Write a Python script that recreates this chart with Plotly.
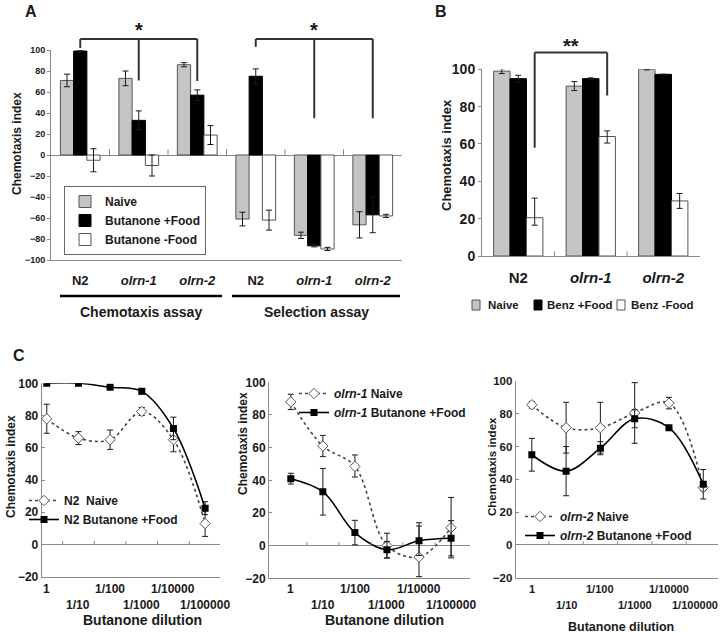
import plotly.graph_objects as go

W, H = 720, 634
FONT = "Liberation Sans, Arial, Helvetica, sans-serif"
INK = "#1a1a1a"
AXIS = "#8a8a8a"
GRAY_FILL = "#c4c4c4"
EDGE = "#555555"

# ---------------- Panel A data ----------------
a_strains = ["N2", "<i>olrn-1</i>", "<i>olrn-2</i>", "N2", "<i>olrn-1</i>", "<i>olrn-2</i>"]
a_assays = ["Chemotaxis assay", "Selection assay"]
a_series = ["Naive", "Butanone +Food", "Butanone -Food"]
a_naive = [71, 73, 86, -61, -76.5, -66.5]
a_naive_err = [6, 7, 2, 6.5, 3, 12.5]
a_food = [99, 33, 57, 75, -86.5, -57]
a_food_err = [0.8, 9, 5, 7, 1, 17]
a_nofood = [-5, -10, 19, -62, -89.5, -58]
a_nofood_err = [11, 10, 9, 9.5, 1.5, 1.5]
a_yticks = [-100, -80, -60, -40, -20, 0, 20, 40, 60, 80, 100]

# ---------------- Panel B data ----------------
b_strains = ["N2", "<i>olrn-1</i>", "<i>olrn-2</i>"]
b_series = ["Naive", "Benz +Food", "Benz -Food"]
b_naive = [99, 91, 100]
b_naive_err = [1.3, 2.4, 0.3]
b_food = [95, 95, 97.3]
b_food_err = [1.8, 0.4, 0.0]
b_nofood = [20.5, 64, 29.5]
b_nofood_err_plus = [10.5, 3, 4]
b_nofood_err_minus = [4, 3.5, 4]
b_yticks = [0, 20, 40, 60, 80, 100]

# ---------------- Panel C data ----------------
dilutions = ["1", "1/10", "1/100", "1/1000", "1/10000", "1/100000"]
c_yticks = [-20, 0, 20, 40, 60, 80, 100]
c1_naive = [78, 66, 65, 82.5, 65, 13]
c1_naive_err = [9, 4, 6, 2.5, 7.5, 8]
c1_food = [100, 100, 97.5, 95, 72, 22.5]
c1_food_err = [0.5, 0.5, 0.5, 1.7, 7, 4]
c2_naive = [88, 61, 48.5, 0, -7, 11]
c2_naive_err_plus = [4.7, 6.5, 7, 7.6, 21, 18.5]
c2_naive_err_minus = [4.7, 6.5, 6.5, 7.6, 12, 18.5]
c2_food = [41, 33, 8, -2.5, 3, 4.5]
c2_food_err = [3.3, 14.3, 7.5, 5, 9, 10.8]
c3_naive = [85.5, 71.5, 71.5, 80.5, 86.5, 35]
c3_naive_err = [2, 15.5, 15.5, 18.5, 3.5, 2]
c3_food = [55, 45, 59, 77, 71.5, 37]
c3_food_err = [10, 15, 4, 5.5, 0.5, 9]

# ---------------- geometry (pixels) ----------------
def px(x):
    return x / W

def py(y):
    return 1 - y / H

A_XPX, A_YPX, A_YR = (51, 402), (260, 50), (-100, 100)
B_XPX, B_YPX, B_YR = (482, 699.5), (256, 69.3), (0, 100)
C_XPX = [(41.7, 220), (269, 470), (515.7, 718)]
C_YPX = [(576.7, 383.3), (578.3, 382.3), (577.7, 381)]
C_XR = [(-0.16, 5.47), (-0.68, 5.59), (-0.47, 5.43)]
C_YR = (-20, 100)


def dom_x(p):
    return [px(p[0]), px(p[1])]


def dom_y(p):
    return [py(p[0]), py(p[1])]


def val_to_paper(v, ypx, yr):
    d = dom_y(ypx)
    return d[0] + (v - yr[0]) / (yr[1] - yr[0]) * (d[1] - d[0])


fig = go.Figure()

err_style = dict(type="data", visible=True, color=INK, thickness=1, width=3)

# ---- Panel A bars
ax = list(range(len(a_strains)))
for name, vals, errs, fill, edge in [
    (a_series[0], a_naive, a_naive_err, GRAY_FILL, EDGE),
    (a_series[1], a_food, a_food_err, "#000000", "#000000"),
    (a_series[2], a_nofood, a_nofood_err, "#ffffff", EDGE),
]:
    fig.add_trace(go.Bar(
        x=ax, y=vals, name=name, xaxis="x", yaxis="y", legend="legend",
        marker=dict(color=fill, line=dict(color=edge, width=1)),
        error_y=dict(array=errs, **err_style),
    ))

# ---- Panel B bars
bx = list(range(len(b_strains)))
for name, vals, ep, em, fill, edge in [
    (b_series[0], b_naive, b_naive_err, b_naive_err, GRAY_FILL, EDGE),
    (b_series[1], b_food, b_food_err, b_food_err, "#000000", "#000000"),
    (b_series[2], b_nofood, b_nofood_err_plus, b_nofood_err_minus, "#ffffff", EDGE),
]:
    fig.add_trace(go.Bar(
        x=bx, y=vals, name=name, xaxis="x2", yaxis="y2", showlegend=False,
        marker=dict(color=fill, line=dict(color=edge, width=1)),
        error_y=dict(array=ep, arrayminus=em, symmetric=False, **err_style),
    ))

# ---- Panel C lines
cx = list(range(len(dilutions)))
c_sets = [
    (c1_naive, c1_naive_err, c1_naive_err, c1_food, c1_food_err, "N2  Naive", "N2 Butanone +Food"),
    (c2_naive, c2_naive_err_plus, c2_naive_err_minus, c2_food, c2_food_err,
     "<i>olrn-1</i> Naive", "<i>olrn-1</i> Butanone +Food"),
    (c3_naive, c3_naive_err, c3_naive_err, c3_food, c3_food_err,
     "<i>olrn-2</i> Naive", "<i>olrn-2</i> Butanone +Food"),
]
for i, (nv, nep, nem, fv, fe, nname, fname) in enumerate(c_sets):
    xa, ya, lg = "x%d" % (i + 3), "y%d" % (i + 3), "legend%d" % (i + 3)
    fig.add_trace(go.Scatter(
        x=cx, y=nv, name=nname, xaxis=xa, yaxis=ya, legend=lg, mode="lines+markers",
        line=dict(color="#444444", width=1.6, dash="dot", shape="spline", smoothing=1),
        marker=dict(symbol="diamond", size=8, color="#ffffff", line=dict(color="#555555", width=1)),
        error_y=dict(array=nep, arrayminus=nem, symmetric=False, **err_style),
    ))
    fig.add_trace(go.Scatter(
        x=cx, y=fv, name=fname, xaxis=xa, yaxis=ya, legend=lg, mode="lines+markers",
        line=dict(color="#000000", width=1.6, shape="spline", smoothing=1),
        marker=dict(symbol="square", size=7, color="#000000"),
        error_y=dict(array=fe, **err_style),
    ))

shapes = []
annotations = []

# ---- Axes
bold = dict(family=FONT, color=INK, weight="bold")
layout_axes = {}
layout_axes["xaxis"] = dict(
    domain=dom_x(A_XPX), range=[-0.5, len(a_strains) - 0.5], anchor="y", automargin=False,
    tickvals=ax, ticktext=a_strains, ticks="", ticklabelstandoff=8,
    tickfont=dict(size=13, **bold), showline=True, linecolor=AXIS, linewidth=1,
    showgrid=False, zeroline=False,
)
layout_axes["yaxis"] = dict(
    domain=dom_y(A_YPX), range=list(A_YR), anchor="x", tickvals=a_yticks, automargin=False,
    tickfont=dict(size=9, **bold), ticks="outside", ticklen=3, tickcolor=AXIS,
    showline=True, linecolor=AXIS, linewidth=1, showgrid=False,
    zeroline=True, zerolinecolor=AXIS, zerolinewidth=1,
)
layout_axes["xaxis2"] = dict(
    domain=dom_x(B_XPX), range=[-0.5, len(b_strains) - 0.5], anchor="y2", automargin=False,
    tickvals=bx, ticktext=b_strains, ticks="", ticklabelstandoff=8,
    tickfont=dict(size=15, **bold), showline=True, linecolor=AXIS, linewidth=1,
    showgrid=False, zeroline=False,
)
layout_axes["yaxis2"] = dict(
    domain=dom_y(B_YPX), range=list(B_YR), anchor="x2", tickvals=b_yticks, automargin=False,
    tickfont=dict(size=14, **bold), ticks="outside", ticklen=3, tickcolor=AXIS,
    showline=True, linecolor=AXIS, linewidth=1, showgrid=False, zeroline=False,
)
for i in range(3):
    n = i + 3
    layout_axes["xaxis%d" % n] = dict(
        domain=dom_x(C_XPX[i]), range=list(C_XR[i]), anchor="y%d" % n, automargin=False,
        showticklabels=False, ticks="", showline=True, linecolor=AXIS, linewidth=1,
        showgrid=False, zeroline=False,
    )
    layout_axes["yaxis%d" % n] = dict(
        domain=dom_y(C_YPX[i]), range=list(C_YR), anchor="x%d" % n, tickvals=c_yticks,
        automargin=False, tickfont=dict(size=12 if i < 2 else 11.5, **bold),
        ticks="inside", ticklen=3, tickcolor=AXIS,
        showline=True, linecolor=AXIS, linewidth=1, showgrid=False,
        zeroline=True, zerolinecolor=AXIS, zerolinewidth=1,
    )

# ---- boundary ticks on zero lines / baselines
for k in range(len(a_strains) - 1):
    shapes.append(dict(type="line", xref="x", yref="y", x0=k + 0.5, x1=k + 0.5, y0=0, y1=5.5,
                       line=dict(color=AXIS, width=1)))
for k in range(len(b_strains) - 1):
    shapes.append(dict(type="line", xref="x2", yref="y2", x0=k + 0.5, x1=k + 0.5, y0=0, y1=2.5,
                       line=dict(color=AXIS, width=1)))
for i in range(3):
    for k in range(len(dilutions) - 1):
        shapes.append(dict(type="line", xref="x%d" % (i + 3), yref="y%d" % (i + 3),
                           x0=k + 0.5, x1=k + 0.5, y0=0, y1=2.2,
                           line=dict(color=AXIS, width=1)))

# ---- significance brackets
bar_w = (1 - 0.32) / 3
a_brackets = [
    (110.5, [(0, 102), (1, 71), (2, 70.5)], "*", 119),
    (110.5, [(3, 103), (4, 35), (5, 35)], "*", 119),
]
for top, legs, star, star_y in a_brackets:
    ytop = val_to_paper(top, A_YPX, A_YR)
    shapes.append(dict(type="line", xref="x", yref="paper", x0=legs[0][0], x1=legs[-1][0],
                       y0=ytop, y1=ytop, line=dict(color="#333333", width=2)))
    for xl, yb in legs:
        shapes.append(dict(type="line", xref="x", yref="paper", x0=xl, x1=xl,
                           y0=ytop, y1=val_to_paper(yb, A_YPX, A_YR),
                           line=dict(color="#333333", width=2)))
    annotations.append(dict(x=legs[1][0], y=val_to_paper(star_y, A_YPX, A_YR), xref="x", yref="paper",
                            text=star, showarrow=False, xanchor="center", yanchor="middle",
                            font=dict(size=20, **bold)))

b_bracket = (109, [(0 + bar_w, 58), (1 + bar_w, 86)], "**", 112.5)
ytop = val_to_paper(b_bracket[0], B_YPX, B_YR)
legs = b_bracket[1]
shapes.append(dict(type="line", xref="x2", yref="paper", x0=legs[0][0], x1=legs[-1][0],
                   y0=ytop, y1=ytop, line=dict(color="#333333", width=2)))
for xl, yb in legs:
    shapes.append(dict(type="line", xref="x2", yref="paper", x0=xl, x1=xl,
                       y0=ytop, y1=val_to_paper(yb, B_YPX, B_YR),
                       line=dict(color="#333333", width=2)))
annotations.append(dict(x=(legs[0][0] + legs[1][0]) / 2, y=val_to_paper(b_bracket[3], B_YPX, B_YR),
                        xref="x2", yref="paper", text=b_bracket[2], showarrow=False,
                        xanchor="center", yanchor="middle", font=dict(size=20, **bold)))

# ---- Panel A assay group labels with underlines
for (x0p, x1p), label in zip([(60, 222), (232, 400)], a_assays):
    shapes.append(dict(type="line", xref="paper", yref="paper", x0=px(x0p), x1=px(x1p),
                       y0=py(296), y1=py(296), line=dict(color="#000000", width=2.5)))
    annotations.append(dict(x=px((x0p + x1p) / 2), y=py(312), xref="paper", yref="paper",
                            text=label, showarrow=False, xanchor="center", yanchor="middle",
                            font=dict(size=14, **bold)))

# ---- Panel B legend (swatch + text)
for (sx, tx), name, fill, edge in zip([(476, 486), (538, 545), (621, 629)], b_series,
                                      [GRAY_FILL, "#000000", "#ffffff"], [EDGE, "#000000", EDGE]):
    shapes.append(dict(type="rect", xref="paper", yref="paper", x0=px(sx - 4), x1=px(sx + 4),
                       y0=py(310), y1=py(300), fillcolor=fill, line=dict(color=edge, width=1)))
    annotations.append(dict(x=px(tx), y=py(305), xref="paper", yref="paper", text=name,
                            xanchor="left", yanchor="middle", showarrow=False,
                            font=dict(size=11.5, **bold)))

# ---- Panel C dilution labels (staggered) and x titles
c_title_pos = [(142, 620, 14), (384, 620, 14), (621, 627, 12.5)]
c_label_size = [12, 12, 11]
for i in range(3):
    for k, lab in enumerate(dilutions):
        a = dict(x=k, y=py(589 if k % 2 == 0 else 605), xref="x%d" % (i + 3), yref="paper",
                 text=lab, showarrow=False, xanchor="center", yanchor="middle",
                 font=dict(size=c_label_size[i], **bold))
        if i == 2 and k == len(dilutions) - 1:
            # last label of the right-hand panel sits against the figure edge
            a.update(x=1, xref="paper", xanchor="right")
        annotations.append(a)
    tx, ty, fs = c_title_pos[i]
    annotations.append(dict(x=px(tx), y=py(ty), xref="paper", yref="paper", text="Butanone dilution",
                            showarrow=False, xanchor="center", yanchor="middle",
                            font=dict(size=fs, **bold)))

# ---- y-axis titles
for (xp, yp, fs) in [(17, 144, 12), (446, 155, 13), (11, 467, 12), (243, 444, 12), (492, 467, 11.5)]:
    annotations.append(dict(x=px(xp), y=py(yp), xref="paper", yref="paper", text="Chemotaxis index",
                            textangle=-90, showarrow=False, xanchor="center", yanchor="middle",
                            font=dict(size=fs, **bold)))

# ---- panel letters
for letter, (xp, yp) in zip(["A", "B", "C"], [(31, 11), (441, 12), (19, 355)]):
    annotations.append(dict(x=px(xp), y=py(yp), xref="paper", yref="paper", text=letter,
                            showarrow=False, xanchor="center", yanchor="middle",
                            font=dict(size=16, **bold)))

legend_common = dict(font=dict(size=12, **bold), bgcolor="rgba(0,0,0,0)", borderwidth=0,
                     itemwidth=30, xanchor="left", yanchor="top", tracegroupgap=0)

fig.update_layout(
    width=W, height=H, margin=dict(l=0, r=0, t=0, b=0),
    paper_bgcolor="#ffffff", plot_bgcolor="#ffffff",
    font=dict(family=FONT, color=INK),
    barmode="group", bargap=0.32, bargroupgap=0,
    shapes=shapes, annotations=annotations,
    legend=dict(x=px(64), y=py(186), xanchor="left", yanchor="top", bgcolor="#ffffff",
                bordercolor="#666666", borderwidth=1, font=dict(size=12, **bold), itemwidth=30),
    legend3=dict(x=px(24), y=py(486), **legend_common),
    legend4=dict(x=px(294), y=py(379), **legend_common),
    legend5=dict(x=px(520), y=py(502), **legend_common),
    **layout_axes,
)

fig.write_html("out.html", post_script="document.body.style.margin='0';",
               config={"displayModeBar": False})
